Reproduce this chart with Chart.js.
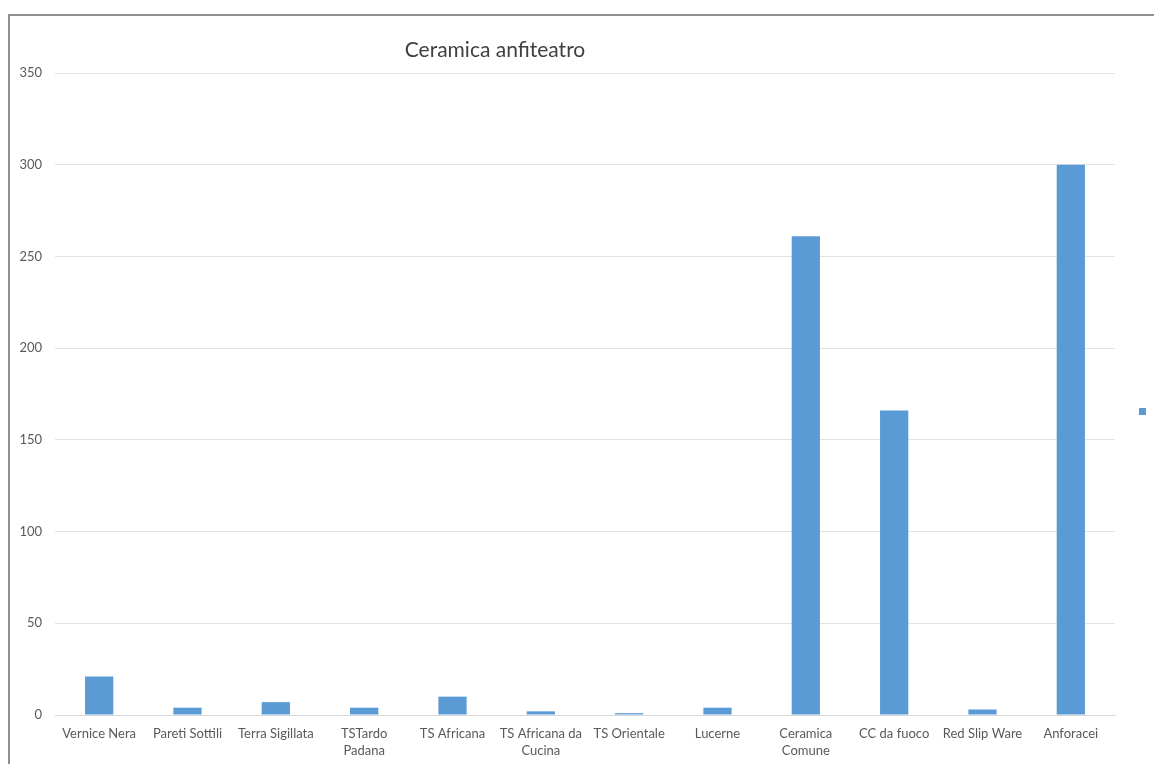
<!DOCTYPE html>
<html>
<head>
<meta charset="utf-8">
<script src="https://cdn.jsdelivr.net/npm/chart.js@4"></script>
<style>
  html, body { margin:0; padding:0; background:#fff; overflow:hidden; }
  #wrap { position:relative; width:1154px; height:764px; }
  #frame { position:absolute; left:8px; top:14px; width:1300px; height:900px; border:2px solid #8e8e8e; box-sizing:border-box; }
  canvas { position:absolute; left:0; top:0; }
</style>
</head>
<body>
<div id="wrap">
  <div id="frame"></div>
  <canvas id="chart" width="1154" height="764"></canvas>
</div>
<script>
// categorie e conteggi
const categories = [
  'Vernice Nera', 'Pareti Sottili', 'Terra Sigillata', ['TSTardo', 'Padana'],
  'TS Africana', ['TS Africana da', 'Cucina'], 'TS Orientale', 'Lucerne',
  ['Ceramica', 'Comune'], 'CC da fuoco', 'Red Slip Ware', 'Anforacei'
];
const counts = [21, 4, 7, 4, 10, 2, 1, 4, 261, 166, 3, 300];
const yTicks = [0, 50, 100, 150, 200, 250, 300, 350];

const titleText = 'Ceramica anfiteatro';
const barColor = '#5b9bd5';
const font = 'Lato, "Open Sans", sans-serif';

// titolo e quadratino della legenda disegnati a mano
const extras = {
  id: 'extras',
  afterDraw(chart) {
    const ctx = chart.ctx;
    ctx.save();
    ctx.fillStyle = '#404040';
    ctx.font = '21px ' + font;
    ctx.textAlign = 'center';
    ctx.textBaseline = 'middle';
    ctx.fillText(titleText, 495, 50);
    ctx.fillStyle = barColor;
    ctx.fillRect(1139, 408, 7, 7);
    ctx.restore();
  }
};

new Chart(document.getElementById('chart'), {
  type: 'bar',
  data: {
    labels: categories,
    datasets: [{ label: '', data: counts, backgroundColor: barColor, barPercentage: 0.32, categoryPercentage: 1 }]
  },
  options: {
    responsive: false,
    animation: false,
    layout: { padding: { top: 73, right: 39, left: 0, bottom: 0 } },
    plugins: { legend: { display: false }, tooltip: { enabled: false } },
    scales: {
      x: {
        grid: { display: false },
        border: { display: true, color: '#d9d9d9' },
        ticks: { color: '#595959', font: { family: font, size: 13, lineHeight: 1.25 }, padding: 3, maxRotation: 0, autoSkip: false },
        afterFit(scale) { scale.height = 49; }
      },
      y: {
        min: 0, max: 350,
        afterBuildTicks(scale) { scale.ticks = yTicks.map(v => ({ value: v })); },
        grid: { color: '#e3e3e3', drawTicks: false },
        border: { display: false },
        ticks: { color: '#595959', font: { family: font, size: 13 }, padding: 13 },
        afterFit(scale) { scale.width = 55; }
      }
    }
  },
  plugins: [extras]
});
</script>
</body>
</html>
